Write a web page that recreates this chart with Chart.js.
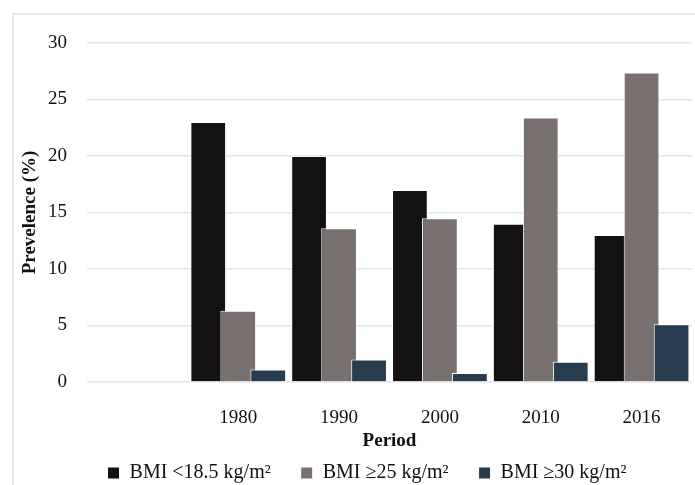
<!DOCTYPE html>
<html>
<head>
<meta charset="utf-8">
<script src="https://cdn.jsdelivr.net/npm/chart.js@4"></script>
<style>
  body { margin: 0; background: #fff; }
  #wrap { position: relative; width: 695px; height: 485px; overflow: hidden; }
  #frame { position: absolute; left: 12px; top: 13px; width: 800px; height: 600px;
           border-left: 2px solid #e6e9ed; border-top: 2px solid #e6e9ed; }
  canvas { position: absolute; left: 0; top: 0; }
</style>
</head>
<body>
<div id="wrap">
  <div id="frame"></div>
  <canvas id="bmiChart" width="695" height="485"></canvas>
</div>
<script>
const periods = ['', '1980', '1990', '2000', '2010', '2016'];
const under185 = [null, 23, 20, 17, 14, 13];
const over25 = [null, 6.3, 13.6, 14.5, 23.4, 27.4];
const over30 = [null, 1.1, 2.0, 0.8, 1.8, 5.1];
const yTicks = [0, 5, 10, 15, 20, 25, 30];

const serif = 'Liberation Serif';

// later series sit on top of earlier ones where the bars overlap
const forwardDraw = {
  id: 'forwardDraw',
  beforeDatasetsDraw(chart) {
    chart.getSortedVisibleDatasetMetas().forEach(m => m.controller.draw());
    return false;
  },
  afterLayout(chart) {
    chart.legend.left += 21;
    chart.legend.right += 21;
  }
};

new Chart(document.getElementById('bmiChart'), {
  type: 'bar',
  data: {
    labels: periods,
    datasets: [
      { label: 'BMI <18.5 kg/m\u00b2', data: under185, backgroundColor: '#131112' },
      { label: 'BMI \u226525 kg/m\u00b2', data: over25, backgroundColor: '#787170' },
      { label: 'BMI \u226530 kg/m\u00b2', data: over30, backgroundColor: '#283c50' }
    ]
  },
  options: {
    responsive: false,
    animation: false,
    layout: { padding: { top: 43, right: 3, left: 0, bottom: -8 } },
    datasets: {
      bar: {
        borderColor: '#ffffff',
        borderWidth: 1,
        categoryPercentage: 0.893,
        barPercentage: 1.19
      }
    },
    plugins: {
      tooltip: { enabled: false },
      legend: {
        position: 'bottom',
        labels: {
          color: '#111',
          font: { family: serif, size: 20 },
          boxWidth: 12,
          boxHeight: 12,
          padding: 30
        }
      }
    },
    scales: {
      x: {
        grid: { display: false },
        border: { display: false },
        ticks: { color: '#111', font: { family: serif, size: 19 }, padding: 17, maxRotation: 0 },
        title: {
          display: true,
          text: 'Period',
          color: '#111',
          font: { family: serif, size: 19, weight: 'bold' },
          padding: { top: 0, bottom: -19.4 }
        },
        afterFit: s => { s.height = 51; }
      },
      y: {
        min: 0,
        max: 30,
        afterBuildTicks: s => { s.ticks = yTicks.map(v => ({ value: v })); },
        grid: { color: '#e1e6ec', lineWidth: 1.5, drawTicks: false },
        border: { display: false },
        ticks: { color: '#111', font: { family: serif, size: 19 }, padding: 20 },
        title: {
          display: true,
          text: 'Prevelence (%)',
          color: '#111',
          font: { family: serif, size: 19, weight: 'bold' },
          padding: { top: 18.6, bottom: 0 }
        },
        afterFit: s => { s.width = 87; }
      }
    }
  },
  plugins: [forwardDraw]
});
</script>
</body>
</html>
